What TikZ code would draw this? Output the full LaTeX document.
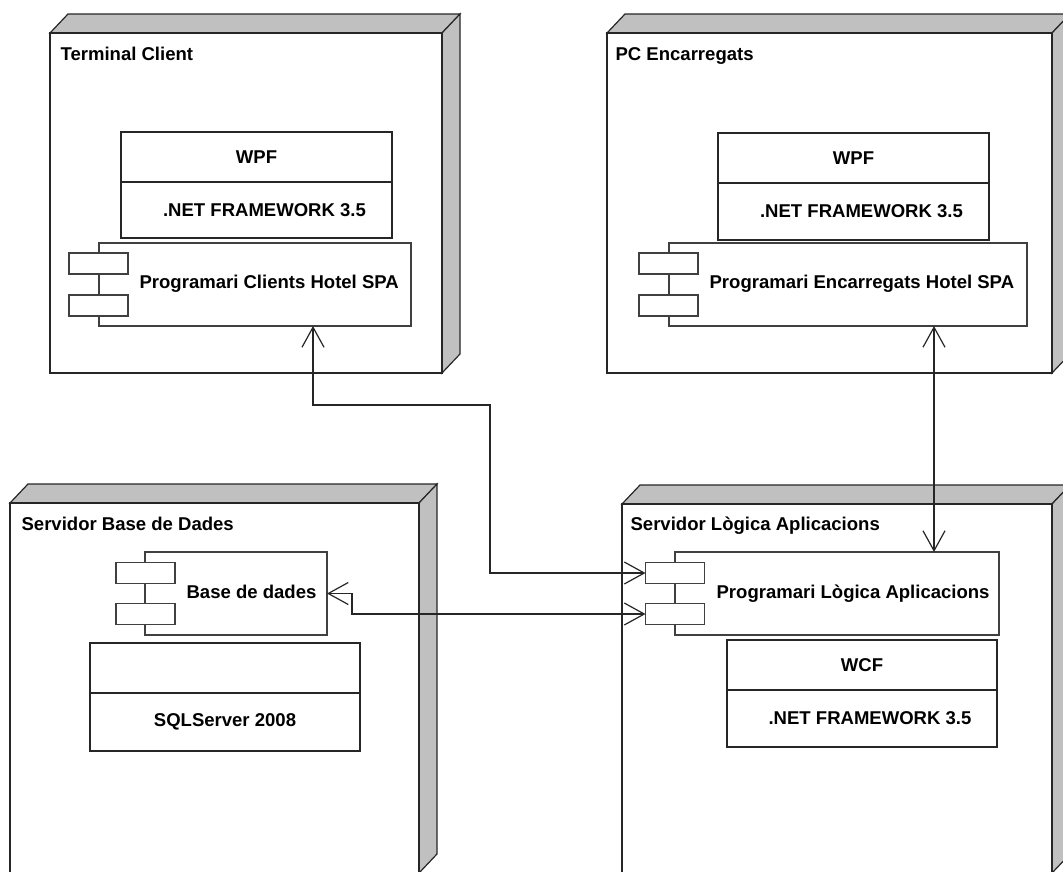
\documentclass[tikz,border=0pt]{standalone}
\usepackage{fontspec}
\setmainfont{Liberation Sans}
\usetikzlibrary{arrows.meta}
\definecolor{sidegray}{RGB}{192,192,192}
\begin{document}
\begin{tikzpicture}[x=0.75pt,y=-0.75pt,line width=0.9pt,
    boxsize/.style 2 args={minimum width=#1*0.75pt,minimum height=#2*0.75pt},
    face/.style={draw=black!85,fill=sidegray},
    front/.style={draw=black!85,fill=white},
    txt/.style={inner sep=0pt,font=\bfseries\fontsize{13.9}{16}\selectfont},
    cell/.style={txt,draw=black!85,fill=white,outer sep=0pt},
    body/.style={draw=black!75,fill=white,inner sep=0pt,outer sep=0pt},
    icon/.style={body,boxsize={59}{21}},
    conn/.style={draw=black!85,{Straight Barb[length=15pt,width=16.5pt]}-{Straight Barb[length=15pt,width=16.5pt]}}]
    \useasboundingbox (0,0) rectangle (1063,871);
    \clip (0,0) rectangle (1063,871);
    %% device nodes
    \foreach \xa/\ya/\xb/\yb in {50/33/442/373,607/33/1052/373,10/503/419/873,622/504/1052/873} {
        \draw[face] (\xa,\ya) -- (\xa+18,\ya-19) -- (\xb+18,\ya-19) -- (\xb,\ya) -- cycle;
        \draw[face] (\xb,\ya) -- (\xb+18,\ya-19) -- (\xb+18,\yb-19) -- (\xb,\yb) -- cycle;
        \draw[front] (\xa,\ya) rectangle (\xb,\yb);
    }
    \node[txt,anchor=base west] (termLbl) at (60,60) {Terminal Client};
    \node[txt,anchor=base west] (encLbl) at (615,60) {PC Encarregats};
    \node[txt,anchor=base west] (bdsLbl) at (21,530) {Servidor Base de Dades};
    \node[txt,anchor=base west] (logLbl) at (630,530) {Servidor Lògica Aplicacions};
    %% components
    \node[body,boxsize={312}{83}] (cliBody) at (255,284.5) {};
    \node[icon] (cliIconA) at (98.5,263.5) {};
    \node[icon] (cliIconB) at (98.5,305.5) {};
    \node[txt,anchor=base west] (cliTxt) at (139,288) {Programari Clients Hotel SPA};
    \node[body,boxsize={358}{83}] (encBody) at (848,284.5) {};
    \node[icon] (encIconA) at (668.5,263.5) {};
    \node[icon] (encIconB) at (668.5,305.5) {};
    \node[txt,anchor=base west] (encTxt) at (709,288) {Programari Encarregats Hotel SPA};
    \node[body,boxsize={182}{83}] (bdBody) at (236,593.5) {};
    \node[icon] (bdIconA) at (145.5,573) {};
    \node[icon] (bdIconB) at (145.5,614) {};
    \node[txt,anchor=base west] (bdTxt) at (186,598) {Base de dades};
    \node[body,boxsize={324}{83}] (logBody) at (837,593.5) {};
    \node[icon] (logIconA) at (675,573) {};
    \node[icon] (logIconB) at (675,614) {};
    \node[txt,anchor=base west] (logTxt) at (716,598) {Programari Lògica Aplicacions};
    %% platform stacks
    \node[cell,boxsize={271}{50}] (tcWpf) at (256.5,157) {WPF\hspace{12pt}};
    \node[cell,boxsize={271}{56}] (tcNet) at (256.5,210) {\hspace{12pt}.NET FRAMEWORK 3.5};
    \node[cell,boxsize={271}{50}] (enWpf) at (853.5,158) {WPF\hspace{12pt}};
    \node[cell,boxsize={271}{57}] (enNet) at (853.5,211.5) {\hspace{12pt}.NET FRAMEWORK 3.5};
    \node[cell,boxsize={270}{50}] (lgWcf) at (862,665) {WCF\hspace{6pt}};
    \node[cell,boxsize={270}{57}] (lgNet) at (862,718.5) {\hspace{12pt}.NET FRAMEWORK 3.5};
    \node[cell,boxsize={270}{50}] (sqlTop) at (225,668) {};
    \node[cell,boxsize={270}{58}] (sqlSrv) at (225,722) {SQLServer 2008\hspace{6pt}};
    %% connectors
    \coordinate (bendA) at (313,405);
    \coordinate (bendB) at (490,405);
    \coordinate (bendC) at (352,593);
    \coordinate (bendD) at (934,0);
    \draw[conn] (cliBody.south -| bendA) -- (bendA) -- (bendB) |- (logIconA.west);
    \draw[conn] (bdBody.east) -- (bdBody.east -| bendC) |- (logIconB.west);
    \draw[conn] (encBody.south -| bendD) -- (logBody.north -| bendD);
\end{tikzpicture}
\end{document}
